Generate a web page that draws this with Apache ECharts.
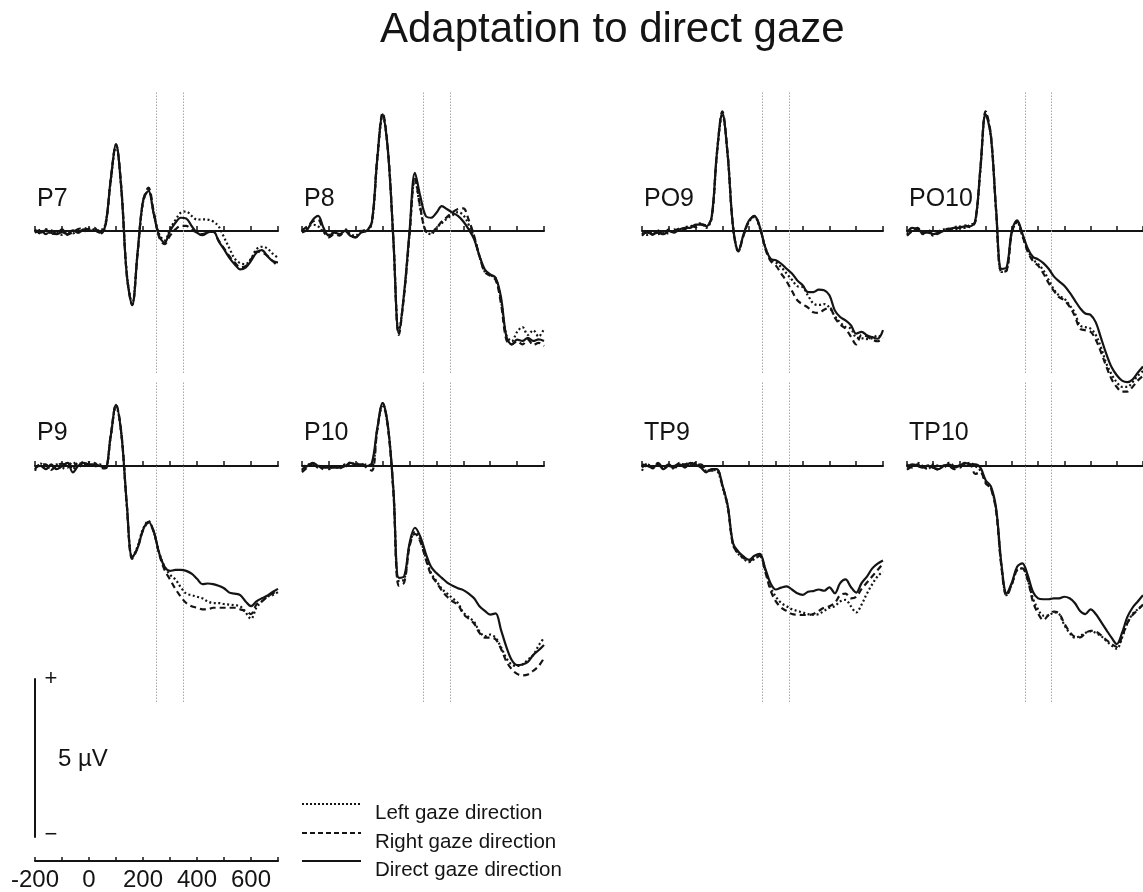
<!DOCTYPE html>
<html><head><meta charset="utf-8">
<script src="https://cdn.jsdelivr.net/npm/echarts@6/dist/echarts.min.js"></script>
<style>html,body{margin:0;padding:0;background:#fff}#chart{width:1143px;height:892px}</style>
</head><body><div id="chart"></div>
<script>
// ---------- DATA ----------
const times = [-200,-180,-160,-140,-120,-100,-80,-60,-40,-20,
  0,20,40,60,80,100,120,140,160,180,
  200,220,240,260,280,300,320,340,360,380,
  400,420,440,460,480,500,520,540,560,580,
  600,620,640,660,680,700];
const panelNames = ['P7','P8','PO9','PO10','P9','P10','TP9','TP10'];
const seriesNames = ['Left gaze direction','Right gaze direction','Direct gaze direction'];
const markerTimes = [250, 350];
const scaleBarUV = [0, 5];
const scaleLabel = '5 µV';
const timeLabels = [-200, 0, 200, 400, 600];

const P7_left = [0.05,-0.08,0.06,-0.10,-0.05,-0.12,-0.02,-0.08,0.04,-0.02,
 0.08,0.05,0.02,0.20,1.55,2.70,1.30,-1.35,-2.30,-0.70,
 0.90,1.30,0.55,-0.10,-0.30,0.05,0.35,0.58,0.62,0.48,
 0.36,0.37,0.36,0.30,0.15,-0.20,-0.55,-0.88,-1.02,-1.05,
 -0.88,-0.58,-0.50,-0.55,-0.72,-0.85];
const P7_right = [-0.06,0.04,-0.10,0.02,-0.08,0.05,-0.12,-0.04,0.06,0.10,
 0.05,0.10,-0.10,0.12,1.60,2.75,1.35,-1.40,-2.35,-0.70,
 0.95,1.38,0.60,-0.20,-0.42,-0.15,0.05,0.16,0.16,0.04,
 -0.05,-0.10,-0.04,-0.03,-0.30,-0.55,-0.80,-1.00,-1.15,-1.12,
 -0.90,-0.65,-0.68,-0.78,-0.95,-1.12];
const P7_direct = [0.00,-0.05,0.02,-0.06,-0.10,-0.04,-0.10,0.02,-0.06,0.05,
 0.00,0.02,-0.05,0.15,1.60,2.75,1.30,-1.40,-2.35,-0.68,
 0.95,1.27,0.53,-0.16,-0.37,0.00,0.26,0.42,0.40,0.16,
 -0.05,-0.13,-0.05,0.00,-0.32,-0.58,-0.85,-1.06,-1.22,-1.16,
 -0.95,-0.69,-0.61,-0.79,-0.95,-1.00];

const P8_left = [0.00,0.12,0.20,0.15,-0.05,-0.12,0.02,-0.10,0.06,-0.10,
 -0.15,0.02,0.00,0.25,2.25,3.65,2.50,-0.30,-3.20,-2.00,
 -0.10,1.65,0.70,0.00,-0.10,0.10,0.25,0.40,0.50,0.60,
 0.50,0.20,-0.20,-0.80,-1.30,-1.40,-1.50,-2.20,-3.30,-3.50,
 -3.20,-3.05,-3.30,-3.15,-3.35,-3.10];
const P8_right = [0.02,0.15,0.30,0.35,0.00,-0.20,-0.10,-0.15,0.02,-0.15,
 -0.20,0.00,0.02,0.30,2.35,3.75,2.55,-0.30,-3.30,-2.00,
 -0.10,1.70,0.75,0.00,-0.05,0.10,0.30,0.45,0.60,0.70,
 0.72,0.35,-0.15,-0.80,-1.30,-1.42,-1.55,-2.30,-3.45,-3.60,
 -3.50,-3.60,-3.45,-3.62,-3.55,-3.65];
const P8_direct = [-0.05,0.05,0.35,0.48,0.10,-0.15,-0.05,-0.10,0.00,-0.15,
 -0.20,-0.05,0.00,0.30,2.30,3.70,2.50,-0.30,-3.25,-1.95,
 0.00,1.85,1.10,0.48,0.42,0.58,0.79,0.69,0.58,0.48,
 0.30,0.05,-0.26,-0.79,-1.22,-1.38,-1.48,-2.10,-3.35,-3.60,
 -3.45,-3.49,-3.39,-3.49,-3.44,-3.49];

const PO9_left = [-0.05,-0.12,-0.02,-0.10,-0.03,-0.08,0.05,0.00,0.12,0.15,
 0.18,0.25,0.10,0.40,2.45,3.70,2.40,0.10,-0.65,-0.10,
 0.30,0.45,0.10,-0.50,-0.90,-1.00,-1.15,-1.35,-1.55,-1.75,
 -1.78,-2.05,-2.30,-2.35,-2.32,-2.43,-2.70,-2.90,-3.05,-3.10,
 -3.38,-3.40,-3.43,-3.40,-3.32,-3.40];
const PO9_right = [-0.15,-0.02,-0.12,0.02,-0.12,0.05,0.00,0.08,0.05,0.18,
 0.12,0.22,0.18,0.42,2.50,3.80,2.45,0.15,-0.65,-0.12,
 0.32,0.48,0.12,-0.55,-0.95,-1.10,-1.35,-1.60,-1.90,-2.20,
 -2.33,-2.43,-2.58,-2.60,-2.50,-2.43,-2.75,-2.97,-3.10,-3.35,
 -3.60,-3.30,-3.35,-3.45,-3.50,-3.40];
const PO9_direct = [-0.10,-0.05,-0.10,-0.05,-0.10,0.00,-0.05,0.05,0.10,0.10,
 0.20,0.20,0.15,0.44,2.50,3.75,2.40,0.13,-0.63,-0.08,
 0.34,0.47,0.13,-0.51,-0.88,-0.93,-1.04,-1.20,-1.35,-1.57,
 -1.72,-1.94,-1.94,-1.86,-1.88,-2.04,-2.52,-2.73,-2.84,-2.99,
 -3.26,-3.20,-3.31,-3.37,-3.42,-3.15];

const PO10_left = [-0.12,0.05,0.08,-0.08,0.00,-0.15,-0.02,0.05,0.00,0.12,
 0.15,0.10,0.20,0.28,1.95,3.75,3.00,0.60,-1.30,-1.25,
 -0.05,0.28,-0.15,-0.60,-0.90,-1.05,-1.25,-1.55,-1.85,-2.05,
 -2.15,-2.35,-2.60,-3.00,-3.05,-3.10,-3.30,-3.70,-4.20,-4.55,
 -4.80,-4.95,-4.95,-4.80,-4.60,-4.45];
const PO10_right = [-0.15,0.00,0.10,-0.10,0.05,-0.12,-0.08,0.02,0.08,0.05,
 0.12,0.18,0.12,0.30,2.00,3.80,3.05,0.62,-1.30,-1.25,
 -0.05,0.30,-0.15,-0.65,-0.95,-1.10,-1.35,-1.65,-1.90,-2.10,
 -2.20,-2.40,-2.70,-3.10,-3.15,-3.20,-3.45,-3.85,-4.30,-4.70,
 -4.95,-5.10,-5.10,-4.95,-4.75,-4.60];
const PO10_direct = [-0.05,0.10,0.05,-0.05,-0.05,-0.10,-0.05,0.00,0.05,0.10,
 0.10,0.15,0.15,0.30,2.00,3.70,3.00,0.66,-1.20,-1.15,
 0.02,0.34,-0.08,-0.55,-0.82,-0.90,-1.02,-1.20,-1.44,-1.60,
 -1.74,-1.95,-2.20,-2.45,-2.62,-2.66,-2.90,-3.40,-3.90,-4.32,
 -4.58,-4.75,-4.80,-4.72,-4.50,-4.30];

const P9_left = [-0.15,0.08,-0.05,-0.05,0.05,-0.10,0.12,-0.10,0.10,0.05,
 0.12,-0.02,0.05,-0.10,0.90,1.90,1.00,-1.25,-2.90,-2.55,
 -2.00,-1.75,-2.10,-2.75,-3.20,-3.45,-3.60,-3.85,-4.05,-4.10,
 -4.15,-4.20,-4.30,-4.35,-4.35,-4.38,-4.40,-4.42,-4.45,-4.65,
 -4.85,-4.50,-4.30,-4.15,-4.10,-4.00];
const P9_right = [-0.10,0.05,0.05,-0.12,0.00,0.08,-0.05,0.15,-0.08,0.15,
 0.00,0.10,-0.05,-0.08,0.95,1.95,1.05,-1.25,-2.95,-2.60,
 -2.05,-1.80,-2.10,-2.80,-3.30,-3.60,-3.90,-4.15,-4.35,-4.45,
 -4.50,-4.55,-4.55,-4.50,-4.50,-4.50,-4.50,-4.50,-4.55,-4.60,
 -4.70,-4.40,-4.30,-4.15,-4.05,-3.95];
const P9_direct = [-0.05,0.00,-0.10,0.05,-0.10,0.00,0.10,-0.20,0.00,0.10,
 0.05,0.05,0.00,-0.05,0.93,1.94,1.00,-1.20,-2.90,-2.60,
 -2.03,-1.77,-2.08,-2.77,-3.20,-3.33,-3.30,-3.30,-3.33,-3.42,
 -3.58,-3.75,-3.73,-3.75,-3.80,-3.88,-4.02,-4.05,-4.10,-4.30,
 -4.45,-4.30,-4.20,-4.12,-4.00,-3.90];

const P10_left = [-0.15,0.05,0.05,-0.05,0.00,-0.10,0.00,-0.08,0.05,0.05,
 0.10,0.00,0.05,0.00,1.15,1.95,1.20,-0.80,-3.65,-3.60,
 -2.50,-2.10,-2.35,-2.90,-3.40,-3.65,-3.90,-4.05,-4.20,-4.35,
 -4.65,-4.80,-4.95,-5.25,-5.40,-5.35,-5.45,-5.75,-6.10,-6.30,
 -6.35,-6.30,-6.15,-6.00,-5.70,-5.45];
const P10_right = [-0.20,-0.05,0.08,0.02,-0.10,-0.02,-0.08,0.00,-0.02,0.12,
 0.00,0.08,-0.05,-0.15,1.15,2.00,1.20,-0.85,-3.80,-3.70,
 -2.55,-2.15,-2.40,-2.95,-3.45,-3.70,-3.95,-4.15,-4.30,-4.40,
 -4.70,-4.85,-5.00,-5.30,-5.45,-5.45,-5.50,-5.80,-6.20,-6.45,
 -6.60,-6.65,-6.62,-6.50,-6.35,-6.10];
const P10_direct = [-0.10,0.00,0.10,0.00,-0.05,-0.05,-0.05,-0.05,0.00,0.10,
 0.05,0.05,0.00,0.10,1.20,2.00,1.25,-0.76,-3.55,-3.50,
 -2.45,-1.96,-2.24,-2.77,-3.20,-3.40,-3.55,-3.70,-3.80,-3.88,
 -3.94,-4.05,-4.20,-4.45,-4.60,-4.72,-4.68,-5.20,-5.74,-6.16,
 -6.32,-6.30,-6.22,-6.00,-5.85,-5.68];

const TP9_left = [-0.15,0.05,0.00,0.00,-0.05,0.05,-0.10,0.10,0.00,0.05,
 0.10,0.00,-0.15,-0.12,-0.15,-0.65,-1.30,-2.50,-2.80,-2.95,
 -3.05,-2.95,-2.85,-3.30,-3.85,-4.15,-4.35,-4.45,-4.55,-4.60,
 -4.65,-4.70,-4.72,-4.70,-4.60,-4.50,-4.45,-4.30,-4.25,-4.45,
 -4.65,-4.40,-4.05,-3.75,-3.50,-3.35];
const TP9_right = [-0.05,0.08,-0.08,0.10,-0.05,0.05,0.00,0.08,0.05,0.12,
 0.00,0.05,-0.12,-0.15,-0.12,-0.62,-1.28,-2.50,-2.78,-2.92,
 -3.02,-2.92,-2.85,-3.35,-3.95,-4.30,-4.50,-4.60,-4.70,-4.72,
 -4.73,-4.73,-4.70,-4.60,-4.50,-4.45,-4.35,-4.10,-4.05,-4.20,
 -4.15,-3.90,-3.70,-3.50,-3.30,-3.10];
const TP9_direct = [0.05,0.00,-0.05,0.05,-0.10,0.00,-0.05,0.05,-0.05,0.10,
 0.05,-0.05,-0.20,-0.10,-0.10,-0.60,-1.25,-2.45,-2.72,-2.88,
 -2.98,-2.85,-2.79,-3.25,-3.72,-3.92,-3.86,-3.82,-3.92,-4.04,
 -4.09,-3.99,-3.97,-3.92,-3.96,-3.85,-4.04,-3.72,-3.60,-3.84,
 -4.02,-3.72,-3.51,-3.25,-3.10,-3.00];

const TP10_left = [0.05,-0.05,0.10,0.00,-0.10,0.05,0.00,-0.05,0.10,0.00,
 -0.05,0.05,0.10,0.00,-0.15,-0.50,-0.70,-1.40,-3.15,-4.10,
 -3.75,-3.30,-3.25,-3.60,-4.20,-4.55,-4.75,-4.75,-4.65,-4.70,
 -5.05,-5.30,-5.45,-5.40,-5.30,-5.25,-5.30,-5.40,-5.55,-5.70,
 -5.80,-5.45,-5.00,-4.70,-4.55,-4.40];
const TP10_right = [-0.12,0.00,0.05,-0.08,0.02,-0.05,-0.12,0.02,0.00,-0.10,
 0.02,0.00,0.05,-0.25,-0.20,-0.55,-0.72,-1.45,-3.20,-4.12,
 -3.75,-3.30,-3.25,-3.60,-4.30,-4.68,-4.89,-4.73,-4.62,-4.68,
 -5.00,-5.26,-5.42,-5.44,-5.31,-5.23,-5.26,-5.37,-5.52,-5.65,
 -5.74,-5.42,-4.99,-4.73,-4.57,-4.40];
const TP10_direct = [-0.05,0.05,0.00,-0.05,0.00,-0.05,-0.10,0.00,0.05,-0.05,
 0.00,0.10,0.05,0.05,-0.05,-0.45,-0.65,-1.35,-3.10,-4.04,
 -3.70,-3.20,-3.09,-3.46,-3.99,-4.20,-4.23,-4.23,-4.20,-4.20,
 -4.15,-4.20,-4.35,-4.60,-4.70,-4.55,-4.70,-4.95,-5.20,-5.45,
 -5.65,-5.30,-4.80,-4.50,-4.30,-4.10];

const panelSeries = [
  [P7_left, P7_right, P7_direct],
  [P8_left, P8_right, P8_direct],
  [PO9_left, PO9_right, PO9_direct],
  [PO10_left, PO10_right, PO10_direct],
  [P9_left, P9_right, P9_direct],
  [P10_left, P10_right, P10_direct],
  [TP9_left, TP9_right, TP9_direct],
  [TP10_left, TP10_right, TP10_direct]
];

// ---------- LAYOUT ----------
const FONT = '"Liberation Sans", Arial, Helvetica, sans-serif';
const INK = '#141414';
const colLeft = [35, 302, 642, 907];
const colWidth = [243, 242, 241, 242];
const rowTop = [92, 382];
const rowBottom = [373, 702];
const rowZero = [231, 466];
const labelY = [199, 433];
const PX_PER_UV = 31.5;
const lineStyles = [
  {type: [2, 2.5], width: 2.2},
  {type: [6, 4], width: 2.2},
  {type: 'solid', width: 2.2}
];

const grid = [], xAxis = [], yAxis = [], series = [], graphic = [];

panelNames.forEach((name, i) => {
  const r = Math.floor(i / 4), c = i % 4;
  grid.push({left: colLeft[c], width: colWidth[c], top: rowTop[r], height: rowBottom[r] - rowTop[r]});
  xAxis.push({
    gridIndex: i, type: 'value', min: -200, max: 700, interval: 100,
    axisLine: {onZero: true, lineStyle: {color: INK, width: 2}},
    axisTick: {show: true, inside: true, length: 5, lineStyle: {color: INK, width: 1.5}},
    axisLabel: {show: false}, splitLine: {show: false}
  });
  yAxis.push({
    gridIndex: i, type: 'value',
    min: -(rowBottom[r] - rowZero[r]) / PX_PER_UV,
    max: (rowZero[r] - rowTop[r]) / PX_PER_UV,
    show: false, splitLine: {show: false}
  });
  panelSeries[i].forEach((vals, k) => {
    const s = {
      name: seriesNames[k], type: 'line', xAxisIndex: i, yAxisIndex: i,
      data: times.map((t, j) => [t, vals[j]]),
      smooth: 0.35, showSymbol: false, symbol: 'none', clip: false, silent: true,
      lineStyle: {color: INK, width: lineStyles[k].width, type: lineStyles[k].type},
      z: 3 + k
    };
    if (k === 0) {
      s.markLine = {
        silent: true, symbol: 'none', label: {show: false}, z: 1,
        lineStyle: {color: '#a8a8a8', width: 1, type: [1.5, 1.5]},
        data: markerTimes.map(t => ({xAxis: t}))
      };
    }
    series.push(s);
  });
  graphic.push({type: 'text', x: colLeft[c] + 2, y: labelY[r],
    style: {text: name, font: '25px ' + FONT, fill: INK, verticalAlign: 'middle', textVerticalAlign: 'middle'}});
});

// scale bar (µV)
grid.push({left: 35, top: 679, width: 20, height: 158});
xAxis.push({gridIndex: 8, type: 'value', min: 0, max: 1, show: false});
yAxis.push({gridIndex: 8, type: 'value', min: scaleBarUV[0], max: scaleBarUV[1], position: 'left',
  axisLine: {show: true, onZero: false, lineStyle: {color: INK, width: 2}},
  axisTick: {show: false}, axisLabel: {show: false}, splitLine: {show: false}});

// time axis (ms)
grid.push({left: 35, width: 243, top: 830, height: 32});
xAxis.push({gridIndex: 9, type: 'value', min: -200, max: 700, interval: 100, position: 'bottom',
  axisLine: {onZero: false, lineStyle: {color: INK, width: 2}},
  axisTick: {show: true, inside: true, length: 4, lineStyle: {color: INK, width: 1.5}},
  axisLabel: {show: true, margin: 7, color: INK, fontSize: 24, fontFamily: FONT, showMinLabel: true,
    formatter: v => timeLabels.indexOf(v) >= 0 ? String(v) : ''},
  splitLine: {show: false}});
yAxis.push({gridIndex: 9, type: 'value', min: 0, max: 1, show: false});

// scale bar texts
graphic.push({type: 'text', x: 51, y: 679, style: {text: '+', font: '22px ' + FONT, fill: INK, align: 'center', textAlign: 'center', verticalAlign: 'middle', textVerticalAlign: 'middle'}});
graphic.push({type: 'text', x: 51, y: 835, style: {text: '−', font: '22px ' + FONT, fill: INK, align: 'center', textAlign: 'center', verticalAlign: 'middle', textVerticalAlign: 'middle'}});
graphic.push({type: 'text', x: 58, y: 759, style: {text: scaleLabel, font: '24px ' + FONT, fill: INK, verticalAlign: 'middle', textVerticalAlign: 'middle'}});

// legend
const legendLineY = [804, 833, 861];
const legendTextY = [813, 842, 870];
const dashes = [[2, 2], [5, 3], null];
seriesNames.forEach((n, k) => {
  graphic.push({type: 'line', shape: {x1: 302, y1: legendLineY[k], x2: 361, y2: legendLineY[k]},
    style: {stroke: INK, lineWidth: 2, lineDash: dashes[k]}});
  graphic.push({type: 'text', x: 375, y: legendTextY[k],
    style: {text: n, font: '20.5px ' + FONT, fill: INK, verticalAlign: 'middle', textVerticalAlign: 'middle'}});
});

const chart = echarts.init(document.getElementById('chart'), null, {renderer: 'canvas'});
chart.setOption({
  animation: false,
  backgroundColor: '#ffffff',
  title: {text: 'Adaptation to direct gaze', left: 380, top: 9, padding: 0,
    textStyle: {fontSize: 42, fontWeight: 'normal', color: INK, fontFamily: FONT, lineHeight: 42}},
  grid, xAxis, yAxis, series, graphic
});
</script></body></html>
